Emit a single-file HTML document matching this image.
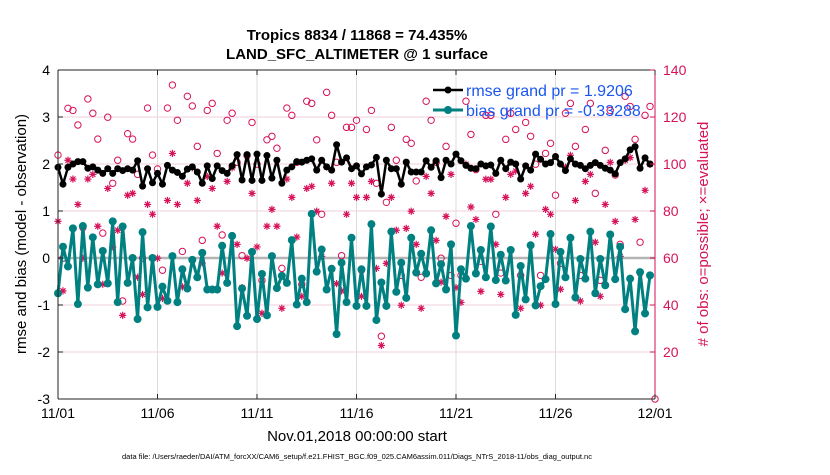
<!DOCTYPE html>
<html><head><meta charset="utf-8"><style>
body{margin:0;background:#fff;width:830px;height:470px;overflow:hidden}
svg text{font-family:"Liberation Sans",sans-serif}
</style></head><body>
<svg id="chart" width="830" height="470">
<text x="357" y="40" text-anchor="middle" font-size="15" font-weight="bold">Tropics 8834 / 11868 = 74.435%</text>
<text x="357" y="59" text-anchor="middle" font-size="15" font-weight="bold">LAND_SFC_ALTIMETER @ 1 surface</text>
<g id="grid"></g><g id="marks"></g><g id="axes"></g>
<text transform="translate(26,234) rotate(-90)" text-anchor="middle" font-size="15">rmse and bias (model - observation)</text>
<text transform="translate(708,234) rotate(-90)" text-anchor="middle" font-size="15" fill="#d6125a"># of obs: o=possible; ×=evaluated</text>
<text x="357" y="441" text-anchor="middle" font-size="15">Nov.01,2018 00:00:00 start</text>
<text x="357" y="459" text-anchor="middle" font-size="7.5">data file: /Users/raeder/DAI/ATM_forcXX/CAM6_setup/f.e21.FHIST_BGC.f09_025.CAM6assim.011/Diags_NTrS_2018-11/obs_diag_output.nc</text>
<g>
<line x1="433" y1="90" x2="463" y2="90" stroke="#000" stroke-width="2.5"/><circle cx="448" cy="90" r="3.5" fill="#000"/>
<text x="466" y="96" font-size="16" fill="#1a56f0">rmse grand pr = 1.9206</text>
<line x1="433" y1="110" x2="463" y2="110" stroke="#008080" stroke-width="3"/><circle cx="448" cy="110" r="4" fill="#008080"/>
<text x="466" y="116" font-size="16" fill="#1a56f0">bias grand pr = -0.33288</text>
</g>
</svg>
<script>
const rmse=[1.93,1.57,1.93,2.0,2.05,2.05,1.91,1.94,1.87,1.8,1.9,1.8,1.9,1.86,1.9,1.87,2.07,1.53,1.9,1.6,1.8,1.57,1.97,1.87,1.82,1.74,1.89,1.94,1.83,1.59,1.96,1.69,
1.96,1.86,1.8,1.96,2.2,1.66,2.2,1.65,2.21,1.65,2.18,1.7,2.08,1.59,1.87,1.94,2.05,2.04,2.08,2.11,1.87,2.08,1.94,1.87,2.41,2.04,2.13,1.9,1.96,1.79,
1.94,1.98,2.14,1.36,2.08,1.9,1.9,1.57,2.04,1.83,1.83,1.83,2.07,1.93,2.07,1.71,2.08,2.0,2.21,2.07,1.97,1.91,1.9,2.0,1.96,1.98,1.8,2.08,1.9,2.04,2.0,
1.68,1.96,1.87,2.21,2.1,2.0,2.03,2.16,2.0,1.86,2.11,2.0,1.97,1.9,1.97,2.03,1.97,1.91,1.87,1.79,2.03,2.11,2.3,2.37,1.91,2.13,2.0];
const bias=[-0.75,0.24,-0.18,0.63,-0.98,0.68,-0.63,0.44,-0.56,0.15,-0.54,0.78,-0.94,0.67,-0.53,0,-1.3,0.55,-1.05,0,-1.04,-0.61,-0.91,0.04,-0.94,-0.24,-0.65,-0.04,-0.41,0.11,-0.67,-0.67,
-0.67,0.26,-0.53,0.47,-1.45,-0.65,-1.23,0.13,-1.3,-0.34,-1.22,0.04,-0.64,-0.38,-0.53,0.38,-0.99,-0.44,-0.94,0.94,-0.29,0.18,-0.67,-0.23,-1.62,-0.1,-0.94,0.43,-1.02,-0.24,
-1.02,0.72,-1.32,-0.52,-1.02,0.56,-0.72,-0.1,-0.85,0.43,-0.31,0.09,-0.33,0.59,-0.54,-0.13,-0.67,0.29,-1.65,-0.24,-0.44,0.68,-0.33,0.17,-0.41,0.67,-0.47,0.07,-0.48,0.17,-1.21,
-0.17,-0.88,0.27,-1.01,-0.6,-0.45,0.51,-0.98,0.13,-0.41,0.43,-0.84,-0.02,-0.44,0.56,-0.75,-0.02,-0.58,0.5,-0.45,0.24,-1.09,-0.44,-1.56,-0.3,-1.18,-0.37];
const possible=[103.8,59.9,123.7,122.8,116.6,72.9,127.7,121.6,110.6,70.6,119.9,91.8,101.6,41.7,112.9,110.6,95.6,59.9,123.8,103.8,97.9,54.8,123.8,133.6,118.6,62.8,128.8,124.7,107.5,67.5,122.8,125.8,
104.5,69.8,118.6,121.6,100.7,61,103.5,117.7,99.9,50.5,110.3,111.8,106.7,55.6,123.8,120.7,100.7,48.8,126.7,125.8,110.3,78.6,130.5,120.7,100.7,61,115.6,115.6,118.6,54.8,
114.7,122.8,91.8,26.7,83.7,115.6,101.6,52.6,110.5,108.8,92.8,51.8,126.7,118.6,100.7,59.9,107.5,52.6,74.8,52.6,126.7,112.6,97.6,58.6,120.7,120.7,78.6,53.6,110.5,121.6,114.7,
52.6,117.7,111.8,99.9,52.6,104.5,108.8,86.7,57.7,121.6,125.8,107.5,52.6,114.7,125.8,87.5,50.5,105.8,122.8,95.3,65.8,128.8,124.5,110.5,66.7,120.7,124.5,0];
const evaluated=[75.6,46,101.6,93.6,82.8,59.9,93.6,95.6,73.5,48.8,89.6,64.7,71.8,35.6,86.7,87.5,51.8,44.5,82.8,78.6,59.9,42.8,84.5,104.5,82.8,47.7,91.8,98.4,84.5,57.9,94.7,89.6,
73.5,53.6,92.6,98.4,65.8,47.4,59.9,87.5,64.7,36.5,73.5,80.7,73.5,38.6,93.6,85.8,68.9,43.7,89.6,90.5,79.9,60.7,98.7,91.8,49.1,46,78.6,91.8,85.8,43.7,
85.8,92.6,55.6,22.8,57.7,85.8,71.8,39.9,72.6,79.9,65.8,38.6,94.7,87.5,67.5,49.7,77.7,95.6,47.4,41.1,99.9,81.7,76.4,45.8,93.5,93.5,65.8,44.5,85.8,95.6,97,
38.6,87.5,90.5,70.1,39.9,80.7,78.6,63.7,46.7,98.7,103.7,84.5,41.7,92.6,95.6,66.7,43.7,82.8,100.7,75.6,60.7,101.6,102.7,76.4,53.6,88.8,99.9];
const leftTicks=[4,3,2,1,0,-1,-2,-3];
const rightTicks=[140,120,100,80,60,40,20,0];
const xTickLabels=["11/01","11/06","11/11","11/16","11/21","11/26","12/01"];
const xTickDays=[0,5,10,15,20,25,30];
const stepDays=0.25;

const X0=58,X1=655,Y0=70,Y1=399;
const xs=d=>X0+(X1-X0)*d/30;
const yl=v=>Y1-(Y1-Y0)*(v+3)/7;
const yr=v=>Y1-(Y1-Y0)*v/140;
const NS="http://www.w3.org/2000/svg";
function mk(tag,attrs,parent){const e=document.createElementNS(NS,tag);for(const k in attrs)e.setAttribute(k,attrs[k]);parent.appendChild(e);return e;}
const grid=document.getElementById('grid'),marks=document.getElementById('marks'),axes=document.getElementById('axes');
mk('rect',{x:X0,y:Y0,width:X1-X0,height:Y1-Y0,fill:'#fff'},grid);
leftTicks.forEach(v=>{const g=mk('line',{x1:X0,x2:X1,y1:yl(v),y2:yl(v),stroke:'#f2d0dc','stroke-width':1},grid);

});
xTickDays.forEach(d=>{const g=mk('line',{x1:xs(d),x2:xs(d),y1:Y0,y2:Y1,stroke:'#dcdcdc','stroke-width':1},grid);

});
const z=mk('line',{x1:X0,x2:X1,y1:yl(0),y2:yl(0),stroke:'#b4b4b4','stroke-width':2.5},grid);


possible.forEach((v,i)=>{const c=mk('circle',{cx:xs(i*stepDays),cy:yr(v),r:3.2,fill:'none',stroke:'#d6125a','stroke-width':1},marks);

});
evaluated.forEach((v,i)=>{const x=xs(i*stepDays),y=yr(v),s=3.6,d=s*0.707;
const p=mk('path',{d:`M${x-s},${y}H${x+s}M${x},${y-s}V${y+s}M${x-d},${y-d}L${x+d},${y+d}M${x-d},${y+d}L${x+d},${y-d}`,stroke:'#d6125a','stroke-width':1.2,fill:'none'},marks);

});
function series(arr,color,w,r,name){
 const pts=arr.map((v,i)=>xs(i*stepDays).toFixed(1)+','+yl(v).toFixed(1)).join(' ');
 const p=mk('polyline',{points:pts,fill:'none',stroke:color,'stroke-width':w,'stroke-linejoin':'round'},marks);
 
 
 arr.forEach((v,i)=>{const c=mk('circle',{cx:xs(i*stepDays),cy:yl(v),r:r,fill:color},marks);
 
 });
}
series(bias,'#008080',3,4,'bias');
series(rmse,'#000',2.5,3.5,'rmse');
mk('line',{x1:X0,x2:X1,y1:Y0,y2:Y0,stroke:'#222','stroke-width':1},axes);
mk('line',{x1:X0,x2:X1,y1:Y1,y2:Y1,stroke:'#222','stroke-width':1},axes);
mk('line',{x1:X0,x2:X0,y1:Y0,y2:Y1,stroke:'#222','stroke-width':1},axes);
mk('line',{x1:X1,x2:X1,y1:Y0,y2:Y1,stroke:'#d6125a','stroke-width':1},axes);
leftTicks.forEach(v=>{mk('line',{x1:X0,x2:X0+5,y1:yl(v),y2:yl(v),stroke:'#222'},axes);
const t=mk('text',{x:X0-8,y:yl(v)+5,'text-anchor':'end','font-size':14},axes);t.textContent=v;

});
rightTicks.forEach(v=>{if(v===0)return;mk('line',{x1:X1-5,x2:X1,y1:yr(v),y2:yr(v),stroke:'#d6125a'},axes);
const t=mk('text',{x:X1+8,y:yr(v)+5,'font-size':14,fill:'#d6125a'},axes);t.textContent=v;

});
xTickDays.forEach((d,i)=>{mk('line',{x1:xs(d),x2:xs(d),y1:Y1,y2:Y1-5,stroke:'#222'},axes);mk('line',{x1:xs(d),x2:xs(d),y1:Y0,y2:Y0+5,stroke:'#222'},axes);
const t=mk('text',{x:xs(d),y:Y1+19,'text-anchor':'middle','font-size':14},axes);t.textContent=xTickLabels[i];

});
</script>
</body></html>
